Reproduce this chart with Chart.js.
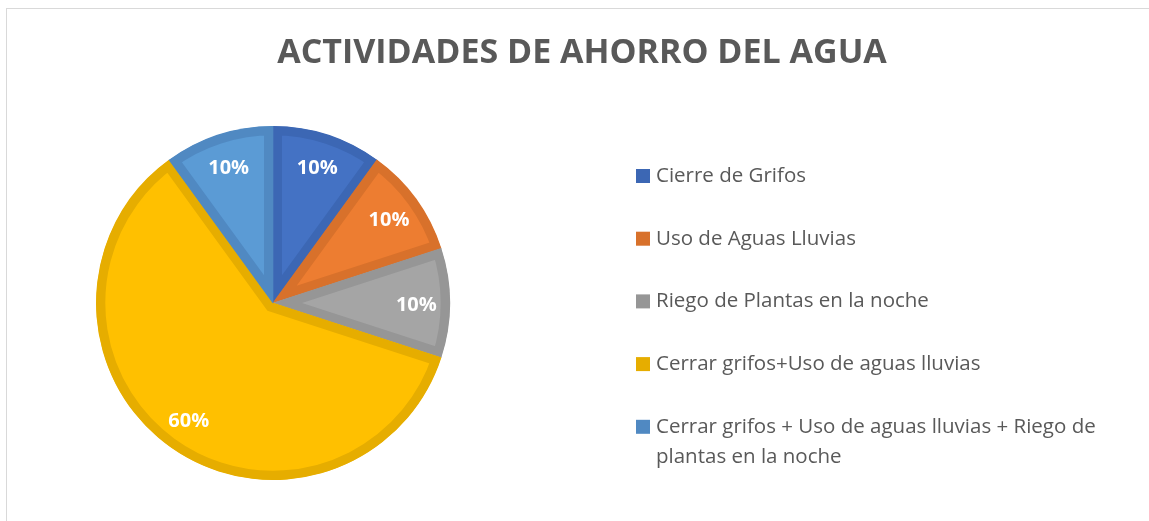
<!DOCTYPE html>
<html>
<head>
<meta charset="utf-8">
<script src="https://cdn.jsdelivr.net/npm/chart.js@4/dist/chart.umd.min.js"></script>
<style>
  html, body { margin: 0; padding: 0; background: #fff; }
  #wrap { position: relative; width: 1149px; height: 521px; overflow: hidden; }
  #frame { position: absolute; left: 6px; top: 8px; width: 1142px; height: 600px;
           border-left: 1px solid #d9d9d9; border-top: 1px solid #d9d9d9; }
  canvas { position: absolute; left: 0; top: 0; }
</style>
</head>
<body>
<div id="wrap">
  <div id="frame"></div>
  <canvas id="pie" width="1149" height="521"></canvas>
</div>
<script>
// actividades de ahorro del agua
var titleText = 'ACTIVIDADES DE AHORRO DEL AGUA';
var labels = [
  'Cierre de Grifos',
  'Uso de Aguas Lluvias',
  'Riego de Plantas en la noche',
  'Cerrar grifos+Uso de aguas lluvias',
  ['Cerrar grifos + Uso de aguas lluvias + Riego de', 'plantas en la noche']
];
var values = [10, 10, 10, 60, 10];
var fills = ['#4472C4', '#ED7D31', '#A5A5A5', '#FFC000', '#5B9BD5'];
var edges = ['#3C67B4', '#D8712B', '#969696', '#E6AD00', '#5089C2'];

var FONT = '"Open Sans", "DejaVu Sans", sans-serif';

// title, slice labels and legend drawn on top of the pie
var extras = {
  id: 'extras',
  afterDraw: function (chart) {
    var ctx = chart.ctx;
    var meta = chart.getDatasetMeta(0);
    var total = values.reduce(function (a, b) { return a + b; }, 0);

    ctx.save();
    // title
    ctx.fillStyle = '#595959';
    ctx.font = 'bold 34px ' + FONT;
    ctx.textAlign = 'center';
    ctx.textBaseline = 'middle';
    ctx.fillText(titleText, 582, 53);

    // percentage labels
    ctx.fillStyle = '#ffffff';
    ctx.font = 'bold 20px ' + FONT;
    meta.data.forEach(function (arc, i) {
      var p = arc.getProps(['x', 'y', 'startAngle', 'endAngle', 'outerRadius']);
      var mid = (p.startAngle + p.endAngle) / 2;
      var r = p.outerRadius * 0.81;
      var txt = Math.round(values[i] / total * 100) + '%';
      ctx.fillText(txt, p.x + Math.cos(mid) * r, p.y + 2 + Math.sin(mid) * r);
    });

    // legend
    ctx.font = '20.5px ' + FONT;
    ctx.textAlign = 'left';
    var x0 = 636, y0 = 176, step = 62.7;
    labels.forEach(function (lab, i) {
      var y = y0 + i * step;
      ctx.fillStyle = edges[i];
      ctx.fillRect(x0, y - 7, 14, 14);
      ctx.fillStyle = '#595959';
      var lines = Array.isArray(lab) ? lab : [lab];
      lines.forEach(function (ln, j) {
        ctx.fillText(ln, x0 + 20, y + j * 30);
      });
    });
    ctx.restore();
  }
};

new Chart('pie', {
  type: 'pie',
  data: {
    labels: labels,
    datasets: [{
      data: values,
      backgroundColor: fills,
      borderColor: edges,
      borderWidth: 9,
      borderAlign: 'inner',
      borderJoinStyle: 'miter'
    }]
  },
  options: {
    responsive: false,
    animation: false,
    layout: { padding: { left: 96, right: 699, top: 126, bottom: 41 } },
    plugins: {
      legend: { display: false },
      tooltip: { enabled: false },
      title: { display: false }
    }
  },
  plugins: [extras]
});
</script>
</body>
</html>
